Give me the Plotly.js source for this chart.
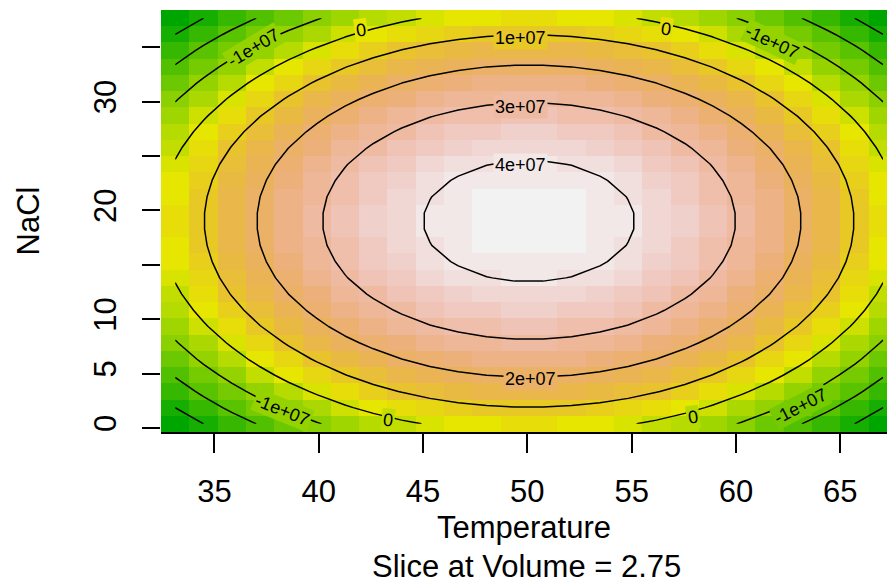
<!DOCTYPE html>
<html>
<head>
<meta charset="utf-8">
<script src="https://cdn.plot.ly/plotly-3.0.1.min.js"></script>
<style>html,body{margin:0;padding:0;background:#fff;}#chart{width:887px;height:587px;}</style>
</head>
<body>
<div id="chart"></div>
<script>
// Grid of the response-surface slice (Volume = 2.75)
const temperature = [33.12, 34.48, 35.83, 37.19, 38.55, 39.91, 41.26, 42.62, 43.98, 45.33, 46.69, 48.05, 49.40,
                     50.76, 52.12, 53.48, 54.83, 56.19, 57.55, 58.90, 60.26, 61.62, 62.97, 64.33, 65.69, 67.05];
const nacl = [0.38, 1.87, 3.36, 4.85, 6.34, 7.84, 9.33, 10.82, 12.31, 13.80, 15.30, 16.79, 18.28,
              19.77, 21.26, 22.76, 24.25, 25.74, 27.23, 28.72, 30.22, 31.71, 33.20, 34.69, 36.18, 37.68];
// predicted response, in units of 1e5 (rows = NaCl, columns = Temperature)
const responseE5 = [
  [-361,-300,-244,-193,-147,-106,-70,-40,-14,6,22,32,37,37,32,22,6,-14,-40,-70,-106,-147,-193,-244,-300,-361],
  [-300,-238,-182,-131,-85,-45,-9,22,47,68,83,93,98,98,93,83,68,47,22,-9,-45,-85,-131,-182,-238,-300],
  [-244,-182,-126,-75,-29,11,47,78,103,124,139,149,154,154,149,139,124,103,78,47,11,-29,-75,-126,-182,-244],
  [-193,-131,-75,-24,22,62,98,129,154,175,190,200,205,205,200,190,175,154,129,98,62,22,-24,-75,-131,-193],
  [-147,-85,-29,22,68,108,144,175,200,221,236,246,251,251,246,236,221,200,175,144,108,68,22,-29,-85,-147],
  [-106,-45,11,62,108,149,185,215,241,261,277,287,292,292,287,277,261,241,215,185,149,108,62,11,-45,-106],
  [-70,-9,47,98,144,185,221,251,277,297,312,323,328,328,323,312,297,277,251,221,185,144,98,47,-9,-70],
  [-40,22,78,129,175,215,251,282,307,328,343,353,358,358,353,343,328,307,282,251,215,175,129,78,22,-40],
  [-14,47,103,154,200,241,277,307,333,353,368,379,384,384,379,368,353,333,307,277,241,200,154,103,47,-14],
  [6,68,124,175,221,261,297,328,353,374,389,399,404,404,399,389,374,353,328,297,261,221,175,124,68,6],
  [22,83,139,190,236,277,312,343,368,389,404,414,419,419,414,404,389,368,343,312,277,236,190,139,83,22],
  [32,93,149,200,246,287,323,353,379,399,414,425,430,430,425,414,399,379,353,323,287,246,200,149,93,32],
  [37,98,154,205,251,292,328,358,384,404,419,430,435,435,430,419,404,384,358,328,292,251,205,154,98,37],
  [37,98,154,205,251,292,328,358,384,404,419,430,435,435,430,419,404,384,358,328,292,251,205,154,98,37],
  [32,93,149,200,246,287,323,353,379,399,414,425,430,430,425,414,399,379,353,323,287,246,200,149,93,32],
  [22,83,139,190,236,277,312,343,368,389,404,414,419,419,414,404,389,368,343,312,277,236,190,139,83,22],
  [6,68,124,175,221,261,297,328,353,374,389,399,404,404,399,389,374,353,328,297,261,221,175,124,68,6],
  [-14,47,103,154,200,241,277,307,333,353,368,379,384,384,379,368,353,333,307,277,241,200,154,103,47,-14],
  [-40,22,78,129,175,215,251,282,307,328,343,353,358,358,353,343,328,307,282,251,215,175,129,78,22,-40],
  [-70,-9,47,98,144,185,221,251,277,297,312,323,328,328,323,312,297,277,251,221,185,144,98,47,-9,-70],
  [-106,-45,11,62,108,149,185,215,241,261,277,287,292,292,287,277,261,241,215,185,149,108,62,11,-45,-106],
  [-147,-85,-29,22,68,108,144,175,200,221,236,246,251,251,246,236,221,200,175,144,108,68,22,-29,-85,-147],
  [-193,-131,-75,-24,22,62,98,129,154,175,190,200,205,205,200,190,175,154,129,98,62,22,-24,-75,-131,-193],
  [-244,-182,-126,-75,-29,11,47,78,103,124,139,149,154,154,149,139,124,103,78,47,11,-29,-75,-126,-182,-244],
  [-300,-238,-182,-131,-85,-45,-9,22,47,68,83,93,98,98,93,83,68,47,22,-9,-45,-85,-131,-182,-238,-300],
  [-361,-300,-244,-193,-147,-106,-70,-40,-14,6,22,32,37,37,32,22,6,-14,-40,-70,-106,-147,-193,-244,-300,-361]
];
const contourLevelsE5 = {start: -300, end: 400, size: 100};
const xTickVals = [35, 40, 45, 50, 55, 60, 65];
const yTickVals = [0, 5, 10, 15, 20, 25, 30, 35];
const yTickText = ['0', '5', '10', '', '20', '', '30', ''];
// contour labels as R placed them
const labelText  = ['1e+07', '3e+07', '4e+07', '2e+07', '0', '-1e+07', '0', '-1e+07', '0', '-1e+07', '0', '-1e+07'];
const labelTemp  = [49.67, 49.67, 49.65, 50.13, 42.03, 36.85, 56.65, 61.75, 43.32, 38.24, 57.94, 63.11];
const labelNaCl  = [35.90, 29.51, 24.18, 4.50, 36.59, 34.98, 36.68, 35.52, 0.73, 1.65, 1.01, 2.04];
const labelAngle = [0, 0, 0, 0, -8, -31, 8, 25, 6, 22, -8, -27];

// R terrain.colors(50)
function hsv2rgb(h, s, v) {
  const i = Math.floor(h * 6) % 6, f = h * 6 - Math.floor(h * 6);
  const p = v * (1 - s), q = v * (1 - f * s), t = v * (1 - (1 - f) * s);
  const m = [[v,t,p],[q,v,p],[p,v,t],[p,q,v],[t,p,v],[v,p,q]][i];
  return 'rgb(' + m.map(c => Math.round(c * 255)).join(',') + ')';
}
function seq(a, b, n) { const r = []; for (let i = 0; i < n; i++) r.push(n === 1 ? a : a + (b - a) * i / (n - 1)); return r; }
function terrainColors(n) {
  const k = Math.floor(n / 2);
  const h1 = seq(4/12, 2/12, k), s1 = seq(1, 1, k), v1 = seq(0.65, 0.9, k);
  const h2 = seq(2/12, 0, n - k + 1).slice(1), s2 = seq(1, 0, n - k + 1).slice(1), v2 = seq(0.9, 0.95, n - k + 1).slice(1);
  const out = [];
  for (let i = 0; i < k; i++) out.push(hsv2rgb(h1[i], s1[i], v1[i]));
  for (let i = 0; i < n - k; i++) out.push(hsv2rgb(h2[i], s2[i], v2[i]));
  return out;
}
const NCOL = 50;
const pal = terrainColors(NCOL);
const colorscale = [];
pal.forEach((c, i) => { colorscale.push([i / NCOL, c]); colorscale.push([(i + 1) / NCOL, c]); });
const flat = responseE5.flat();
const zmin = Math.min(...flat), zmax = Math.max(...flat);

function nearest(arr, v) { let b = 0; arr.forEach((a, i) => { if (Math.abs(a - v) < Math.abs(arr[b] - v)) b = i; }); return b; }
function colorAt(x, y) {
  const z = responseE5[nearest(nacl, y)][nearest(temperature, x)];
  return pal[Math.min(NCOL - 1, Math.floor((z - zmin) / (zmax - zmin) * NCOL))];
}

const FONT = 'Liberation Sans, Arial, sans-serif';

const traces = [
  {type: 'heatmap', x: temperature, y: nacl, z: responseE5, colorscale: colorscale,
   zmin: zmin, zmax: zmax, showscale: false, zsmooth: false, hoverinfo: 'skip'},
  {type: 'contour', x: temperature, y: nacl, z: responseE5, autocontour: false,
   contours: Object.assign({coloring: 'none', showlabels: false}, contourLevelsE5),
   line: {color: '#000', width: 1.5, smoothing: 0}, showscale: false, hoverinfo: 'skip'}
];

const annotations = labelText.map((t, i) => ({
  x: labelTemp[i], y: labelNaCl[i], xref: 'x', yref: 'y', text: t, showarrow: false,
  textangle: labelAngle[i], font: {family: FONT, size: 18, color: '#000'},
  bgcolor: colorAt(labelTemp[i], labelNaCl[i]), borderpad: 1
}));
annotations.push({
  xref: 'paper', yref: 'paper', x: 0.503, y: -0.318, xanchor: 'center', yanchor: 'middle',
  text: 'Slice at Volume = 2.75', showarrow: false, font: {family: FONT, size: 31, color: '#000'}
});

const layout = {
  width: 887, height: 587,
  margin: {l: 161, r: 0, t: 10, b: 155, pad: 0},
  paper_bgcolor: '#fff', plot_bgcolor: '#fff',
  showlegend: false,
  font: {family: FONT, color: '#000'},
  xaxis: {
    range: [32.44, 67.24], tickvals: xTickVals, ticks: 'outside', ticklen: 19, tickwidth: 2, tickcolor: '#000',
    showline: true, linecolor: '#000', linewidth: 2, showgrid: false, zeroline: false, automargin: false,
    tickfont: {family: FONT, size: 31, color: '#000'}, ticklabelstandoff: 12,
    title: {text: 'Temperature', font: {family: FONT, size: 31, color: '#000'}, standoff: 8}
  },
  yaxis: {
    range: [-0.37, 38.43], tickvals: yTickVals, ticktext: yTickText, tickangle: -90,
    ticks: 'outside', ticklen: 18, tickwidth: 2, tickcolor: '#000',
    showline: false, showgrid: false, zeroline: false, automargin: false,
    tickfont: {family: FONT, size: 31, color: '#000'}, ticklabelstandoff: 14,
    title: {text: 'NaCl', font: {family: FONT, size: 31, color: '#000'}, standoff: 38}
  },
  annotations: annotations
};

Plotly.newPlot('chart', traces, layout, {displayModeBar: false, staticPlot: true});
</script>
</body>
</html>
